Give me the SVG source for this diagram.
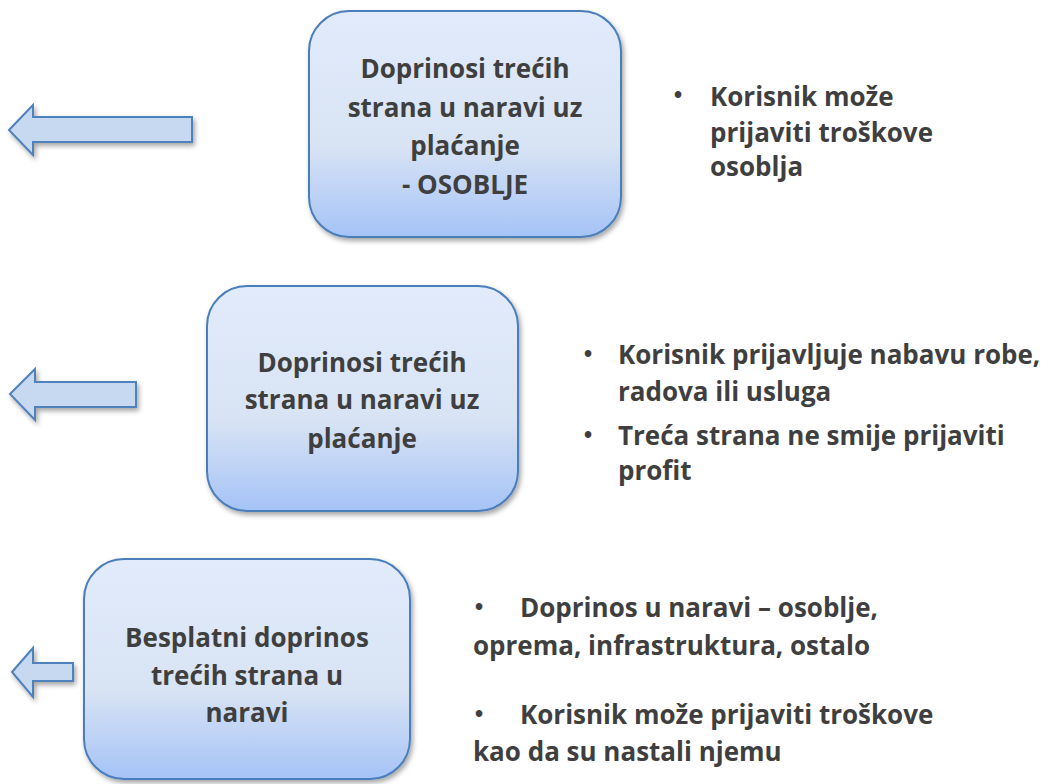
<svg xmlns="http://www.w3.org/2000/svg" width="1051" height="784" viewBox="0 0 1051 784">
<defs>
<linearGradient id="boxGrad" x1="0" y1="0" x2="0" y2="1">
<stop offset="0" stop-color="#e1ebfb"/>
<stop offset="0.6" stop-color="#d8e3f4"/>
<stop offset="1" stop-color="#a5c3f7"/>
</linearGradient>
<filter id="shadow" x="-10%" y="-10%" width="125%" height="130%">
<feDropShadow dx="2" dy="3" stdDeviation="2.5" flood-color="#000" flood-opacity="0.35"/>
</filter>
<style>
.box{fill:url(#boxGrad);stroke:#4a7ebb;stroke-width:2;filter:url(#shadow);}
.arrow{fill:#c6d9f1;stroke:#4f81bd;stroke-width:2;filter:url(#shadow);}
text{font-family:"Open Sans","Liberation Sans",sans-serif;font-weight:bold;font-size:26px;fill:#3f3f3f;}
.c{text-anchor:middle;}
.b{font-family:"Liberation Sans",sans-serif;font-size:23px;}
</style>
</defs>
<g id="connectors">
<polygon class="arrow" points="9,130 33,105 33,117 192,117 192,142 33,142 33,155"/>
<polygon class="arrow" points="10,394 35,369 35,382 136,382 136,407 35,407 35,420"/>
<polygon class="arrow" points="12,672 33,648 33,663 73,663 73,681 33,681 33,697"/>
</g>
<g id="node1">
<rect class="box" x="309" y="11" width="312" height="226" rx="40" ry="40"/>
<text class="c" x="465" y="78">Doprinosi trećih</text>
<text class="c" x="465" y="117">strana u naravi uz</text>
<text class="c" x="465" y="155">plaćanje</text>
<text class="c" x="465" y="194">- OSOBLJE</text>
</g>
<g id="node2">
<rect class="box" x="207" y="286" width="311" height="225" rx="40" ry="40"/>
<text class="c" x="362" y="372">Doprinosi trećih</text>
<text class="c" x="362" y="409">strana u naravi uz</text>
<text class="c" x="362" y="448">plaćanje</text>
</g>
<g id="node3">
<rect class="box" x="84" y="559" width="326" height="220" rx="40" ry="40"/>
<text class="c" x="247" y="647">Besplatni doprinos</text>
<text class="c" x="247" y="685">trećih strana u</text>
<text class="c" x="247" y="722">naravi</text>
</g>
<g id="text1">
<text class="b" x="674" y="103">•</text>
<text x="710" y="106">Korisnik može</text>
<text x="710" y="142">prijaviti troškove</text>
<text x="710" y="176">osoblja</text>
</g>
<g id="text2">
<text class="b" x="584" y="362">•</text>
<text x="618" y="364">Korisnik prijavljuje nabavu robe,</text>
<text x="618" y="401">radova ili usluga</text>
<text class="b" x="584" y="443">•</text>
<text x="618" y="445">Treća strana ne smije prijaviti</text>
<text x="618" y="480">profit</text>
</g>
<g id="text3">
<text class="b" x="475" y="615">•</text>
<text x="520" y="617">Doprinos u naravi – osoblje,</text>
<text x="473" y="655">oprema, infrastruktura, ostalo</text>
<text class="b" x="475" y="722">•</text>
<text x="520" y="724">Korisnik može prijaviti troškove</text>
<text x="473" y="761">kao da su nastali njemu</text>
</g>
</svg>
